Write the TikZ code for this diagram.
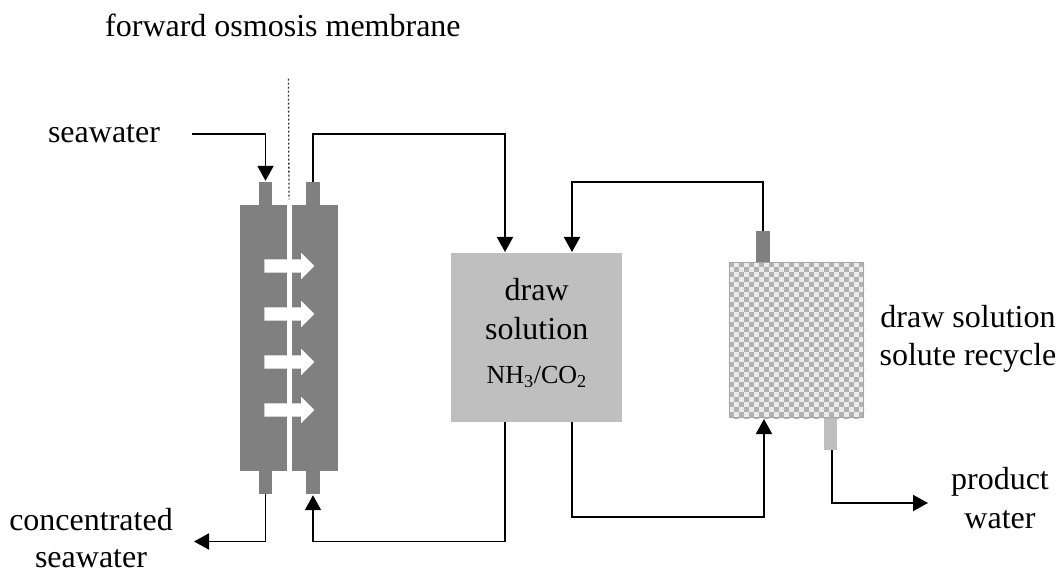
\documentclass[tikz,border=0pt]{standalone}
\usepackage{fontspec}
\setmainfont{Liberation Serif}
\usetikzlibrary{shapes, arrows.meta, calc}
\tikzset{
	pipe/.style={draw=black, line width=1.9pt},
	flow/.style={pipe, -{Triangle[width=16pt, length=15pt]}, shorten >=1pt},
	port/.style={fill=#1, inner sep=0pt, minimum width=13.5pt},
	caption/.style={inner sep=0pt, align=center, font=\fontsize{32}{38}\selectfont},
	passage/.style={single arrow, fill=white, inner xsep=0pt, inner ysep=6.5pt, minimum height=50pt, minimum width=26pt, single arrow head extend=6.5pt, single arrow tip angle=90},
}

\begin{document}
\begin{tikzpicture}[x=1pt, y=-1pt]
		\useasboundingbox (0, 0) rectangle (1058, 569);
		% membrane module
		\node[port=black!50, minimum height=23pt] (seaport) at (265.5, 193.5) {};
		\node[port=black!50, minimum height=23pt] (dilport) at (313, 193.5) {};
		\node[port=black!50, minimum height=23pt] (brineport) at (265.5, 482.5) {};
		\node[port=black!50, minimum height=23pt] (returnport) at (313, 482.5) {};
		\node[fill=black!50, inner sep=0pt, minimum width=98pt, minimum height=266pt] (module) at (289, 338) {};
		\fill[white] ($(module.north)+(-2.5, 0)$) rectangle ($(module.south)+(2.5, 0)$);
		\foreach \y in {266, 314, 362, 410}
			\node[passage] (passage\y) at (286, \y) {};
		\node[inner sep=0pt] (membranetop) at (288.5, 78) {};
		\node[inner sep=0pt] (membraneend) at (289, 200) {};
		\draw[line width=1.3pt, dash pattern=on 2pt off 2pt, black!80] (membranetop) to (membraneend);
		% draw solution tank
		\node[fill=black!25, inner sep=0pt, minimum width=171pt, minimum height=169pt] (tank) at (536.5, 337.5) {};
		\node[caption, anchor=base] (tanktext) at (536.7, 301) {draw};
		\node[caption, anchor=base] (tanktextb) at (536.7, 340) {solution};
		\node[caption, anchor=base, font=\fontsize{26}{30}\selectfont] (tanktextc) at (536.7, 384) {NH\textsubscript{3}/CO\textsubscript{2}};
		% solute recycle unit
		\node[port=black!50, minimum height=31pt] (recycleport) at (763, 246.5) {};
		\node[port=black!25, minimum height=32pt] (productport) at (830.5, 434) {};
		\begin{scope}
			\clip (729, 262) rectangle (864, 418);
			\fill[black!8] (729, 262) rectangle (864, 418);
			\foreach \i in {0, ..., 27} {
				\foreach \j in {0, ..., 31} {
					\pgfmathtruncatemacro{\cell}{mod(\i+\j, 2)}
					\ifnum\cell=0
						\fill[black!30] (729+5*\i, 262+5*\j) rectangle ++(5, 5);
					\fi
				}
			}
		\end{scope}
		\node[draw=black!35, line width=1.5pt, inner sep=0pt, minimum width=134pt, minimum height=155pt] (recycle) at (796.5, 340) {};
		% texts
		\node[caption, anchor=base west] (title) at (105, 37) {forward osmosis membrane};
		\node[caption, anchor=base] (seawater) at (104, 143) {seawater};
		\node[caption, anchor=base] (brine) at (91, 530) {concentrated};
		\node[caption, anchor=base] (brineb) at (91, 567) {seawater};
		\node[caption, anchor=base] (solute) at (968, 328) {draw solution};
		\node[caption, anchor=base] (soluteb) at (968, 366) {solute recycle};
		\node[caption, anchor=base] (product) at (1000, 489) {product};
		\node[caption, anchor=base] (productb) at (1000, 528) {water};
		% pipes
		\coordinate (seain) at (192, 134);
		\coordinate (brineout) at (193, 541.5);
		\coordinate (productout) at (929, 503);
		\coordinate (dilbend) at (313, 134);
		\coordinate (recyclebend) at (763, 182);
		\coordinate (returnbend) at (505, 541.5);
		\coordinate (feedbend) at (572, 517);
		\draw[flow] (seain) -| (seaport.north);
		\draw[flow] (dilport.north) -- (dilbend) -| (505, 253);
		\draw[flow] (recycleport.north) -- (recyclebend) -| (572, 253);
		\draw[flow] (505, 422) -- (returnbend) -| (returnport.south);
		\draw[flow] (572, 422) -- (feedbend) -| (764, 418);
		\draw[flow] (brineport.south) |- (brineout);
		\draw[flow] (832, 450) |- (productout);
	\end{tikzpicture}
\end{document}
